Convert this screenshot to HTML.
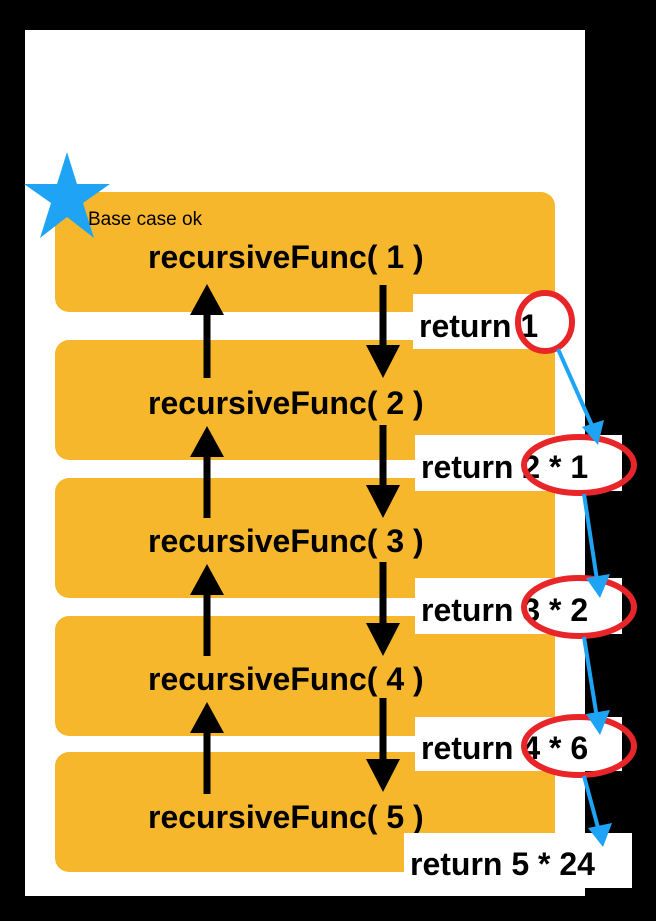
<!DOCTYPE html>
<html><head><style>
body{margin:0;background:#000;width:656px;height:916px;overflow:hidden}
</style></head><body>
<svg width="656" height="916" xmlns="http://www.w3.org/2000/svg" font-family="Liberation Sans, sans-serif">
<rect width="656" height="916" fill="#000"/>
<rect x="25" y="30" width="560" height="866" fill="#fff"/>
<g fill="#f6b72c">
<rect x="55" y="192" width="500" height="120" rx="14"/>
<rect x="55" y="340" width="500" height="120" rx="14"/>
<rect x="55" y="478" width="500" height="120" rx="14"/>
<rect x="55" y="616" width="500" height="120" rx="14"/>
<rect x="55" y="752" width="500" height="120" rx="14"/>
</g>
<polygon fill="#1fa4f5" points="67,152 77,184 110,184 83,203 94,238 67,217 40,238 51,203 24,184 57,184"/>
<text x="88" y="225" font-size="19">Base case ok</text>
<g font-size="32" font-weight="bold">
<text x="148" y="268">recursiveFunc( 1 )</text>
<text x="148" y="414">recursiveFunc( 2 )</text>
<text x="148" y="552">recursiveFunc( 3 )</text>
<text x="148" y="690">recursiveFunc( 4 )</text>
<text x="148" y="828">recursiveFunc( 5 )</text>
</g>
<g stroke="#000" stroke-width="7">
<line x1="207" y1="378" x2="207" y2="310"/><line x1="383" y1="285" x2="383" y2="350"/>
<line x1="207" y1="518" x2="207" y2="452"/><line x1="383" y1="425" x2="383" y2="490"/>
<line x1="207" y1="656" x2="207" y2="590"/><line x1="383" y1="562" x2="383" y2="628"/>
<line x1="207" y1="794" x2="207" y2="728"/><line x1="383" y1="698" x2="383" y2="764"/>
</g>
<g fill="#000">
<polygon points="190,315 224,315 207,284"/><polygon points="366,345 400,345 383,378"/>
<polygon points="190,457 224,457 207,426"/><polygon points="366,485 400,485 383,518"/>
<polygon points="190,595 224,595 207,564"/><polygon points="366,623 400,623 383,656"/>
<polygon points="190,733 224,733 207,702"/><polygon points="366,759 400,759 383,792"/>
</g>
<g fill="#fff">
<rect x="413" y="294" width="143" height="55"/>
<rect x="415" y="435" width="207" height="56"/>
<rect x="415" y="578" width="207" height="56"/>
<rect x="415" y="717" width="207" height="54"/>
<rect x="404" y="833" width="228" height="55"/>
</g>
<g font-size="32" font-weight="bold">
<text x="419" y="337">return 1</text>
<text x="421" y="478">return 2 * 1</text>
<text x="421" y="621">return 3 * 2</text>
<text x="421" y="759">return 4 * 6</text>
<text x="410" y="875">return 5 * 24</text>
</g>
<g fill="none" stroke="#e8262a" stroke-width="6">
<ellipse cx="545" cy="322" rx="27" ry="29"/>
<ellipse cx="579" cy="465" rx="55" ry="28"/>
<ellipse cx="579" cy="607" rx="55" ry="29"/>
<ellipse cx="579" cy="746" rx="55" ry="29"/>
</g>
<g stroke="#1fa4f5" stroke-width="4">
<line x1="558" y1="349" x2="594" y2="430"/>
<line x1="584" y1="494" x2="597" y2="580"/>
<line x1="584" y1="637" x2="597" y2="718"/>
<line x1="584" y1="776" x2="600" y2="835"/>
</g>
<g fill="#1fa4f5">
<polygon points="582,427 604,420 598,445"/>
<polygon points="586,578 610,574 600,598"/>
<polygon points="586,714 610,710 600,735"/>
<polygon points="588,828 612,823 603,847"/>
</g>
</svg>
</body></html>
